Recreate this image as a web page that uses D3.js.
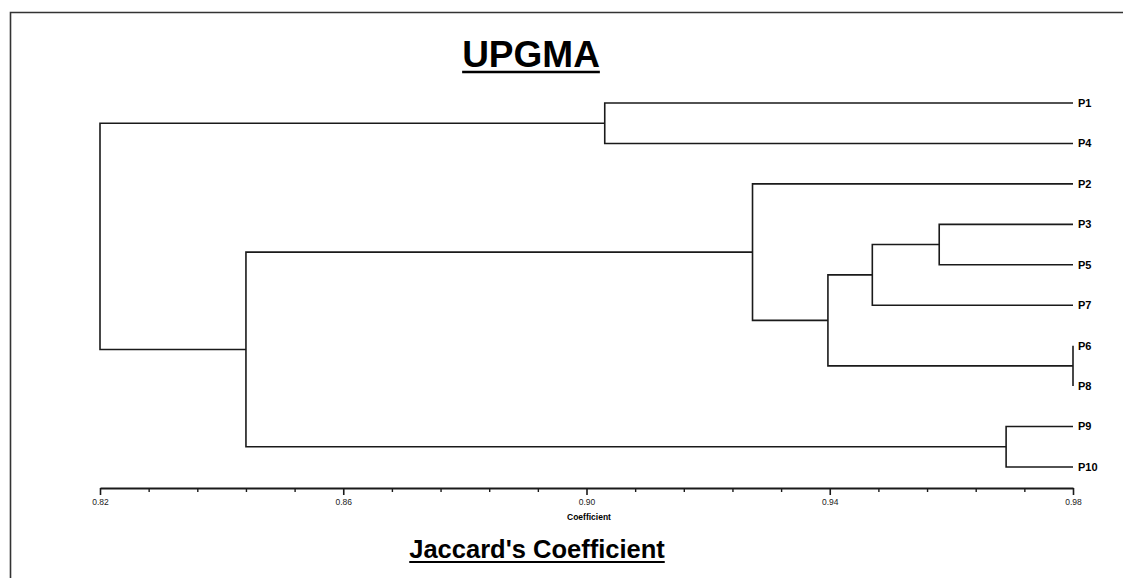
<!DOCTYPE html>
<html>
<head>
<meta charset="utf-8">
<script src="https://cdn.jsdelivr.net/npm/d3@7"></script>
<style>
  body { margin: 0; background: #fff; }
  svg { display: block; font-family: "Liberation Sans", Arial, sans-serif; }
</style>
</head>
<body>
<div id="chart"></div>
<script>
// leaf order top to bottom
const leaves = ["P1", "P4", "P2", "P3", "P5", "P7", "P6", "P8", "P9", "P10"];

// merge i creates cluster C(i+1) from mergeA[i] and mergeB[i] at mergeLevel[i]
const mergeA = ["P1", "P3", "C2", "P6", "C3", "P2", "P9", "C6", "C1"];
const mergeB = ["P4", "P5", "P7", "P8", "C4", "C5", "P10", "C7", "C8"];
const mergeLevel = [0.903, 0.958, 0.947, 0.98, 0.9397, 0.9273, 0.969, 0.844, 0.82];

const majorTicks = [0.82, 0.86, 0.90, 0.94, 0.98];
const minorStep = 0.008;

const width = 1123;
const height = 578;
const leafLevel = 0.98;

const svg = d3.select("#chart").append("svg")
  .attr("width", width)
  .attr("height", height)
  .attr("viewBox", [0, 0, width, height]);

svg.append("rect").attr("width", width).attr("height", height).attr("fill", "#fff");

// frame (only left and top edges are visible)
svg.append("path")
  .attr("d", `M10.5,${height}V12.5H${width}`)
  .attr("fill", "none")
  .attr("stroke", "#333")
  .attr("stroke-width", 1.6);

const x = d3.scaleLinear().domain([0.82, 0.98]).range([100, 1073]);
const y = d3.scalePoint().domain(leaves).range([103, 467]);

// build the tree
const nodes = new Map(leaves.map((d) => [d, { name: d, level: leafLevel }]));
mergeA.forEach((a, i) => {
  const name = "C" + (i + 1);
  nodes.set(name, { name, level: mergeLevel[i], children: [nodes.get(a), nodes.get(mergeB[i])] });
});
const root = d3.hierarchy(nodes.get("C" + mergeA.length));

root.eachAfter((n) => {
  n.py = n.children ? d3.mean(n.children, (c) => c.py) : y(n.data.name);
  n.px = x(n.data.level);
});

const links = svg.append("g")
  .attr("fill", "none")
  .attr("stroke", "#1a1a1a")
  .attr("stroke-width", 1.6);

root.descendants().filter((n) => n.children).forEach((n) => {
  const [a, b] = n.children;
  links.append("path")
    .attr("d", `M${a.px},${a.py}H${n.px}V${b.py}H${b.px}`);
});

// leaf labels
svg.append("g")
  .selectAll("text")
  .data(root.leaves())
  .join("text")
  .attr("x", (d) => d.px + 5)
  .attr("y", (d) => d.py)
  .attr("dy", "0.35em")
  .attr("font-size", 11)
  .attr("font-weight", "bold")
  .text((d) => d.data.name);

// axis
const axisY = 488;
const minorTicks = d3.range(0.82, 0.98 + 1e-9, minorStep)
  .filter((v) => !majorTicks.some((m) => Math.abs(m - v) < 1e-6));

svg.append("g")
  .attr("transform", `translate(0,${axisY})`)
  .call(d3.axisBottom(x).tickValues(minorTicks).tickSize(4).tickSizeOuter(0).tickFormat(""))
  .call((g) => g.select(".domain").remove())
  .selectAll("line").attr("stroke", "#1a1a1a").attr("stroke-width", 1.4);

const axisG = svg.append("g")
  .attr("transform", `translate(0,${axisY})`)
  .call(d3.axisBottom(x).tickValues(majorTicks).tickSize(7).tickSizeOuter(0).tickPadding(4)
    .tickFormat(d3.format(".2f")))
  .attr("font-family", null)
  .attr("font-size", 8.5);
axisG.select(".domain").attr("stroke", "#1a1a1a").attr("stroke-width", 1.8);
axisG.selectAll("line").attr("stroke", "#1a1a1a").attr("stroke-width", 1.6);
axisG.selectAll("text").attr("fill", "#222");

svg.append("text")
  .attr("x", 589)
  .attr("y", 520)
  .attr("text-anchor", "middle")
  .attr("font-size", 8.5)
  .attr("font-weight", "bold")
  .text("Coefficient");

// underlined titles
function underlined(txt, cx, baseline, size, ulY, ulW) {
  const t = svg.append("text")
    .attr("x", cx)
    .attr("y", baseline)
    .attr("text-anchor", "middle")
    .attr("font-size", size)
    .attr("font-weight", "bold")
    .attr("fill", "#000")
    .text(txt);
  const w = t.node().getComputedTextLength();
  svg.append("line")
    .attr("x1", cx - w / 2).attr("x2", cx + w / 2)
    .attr("y1", ulY).attr("y2", ulY)
    .attr("stroke", "#000")
    .attr("stroke-width", ulW);
}

underlined("UPGMA", 531, 67, 37, 72, 2.5);
underlined("Jaccard's Coefficient", 537, 558, 25.5, 562, 2);
</script>
</body>
</html>
